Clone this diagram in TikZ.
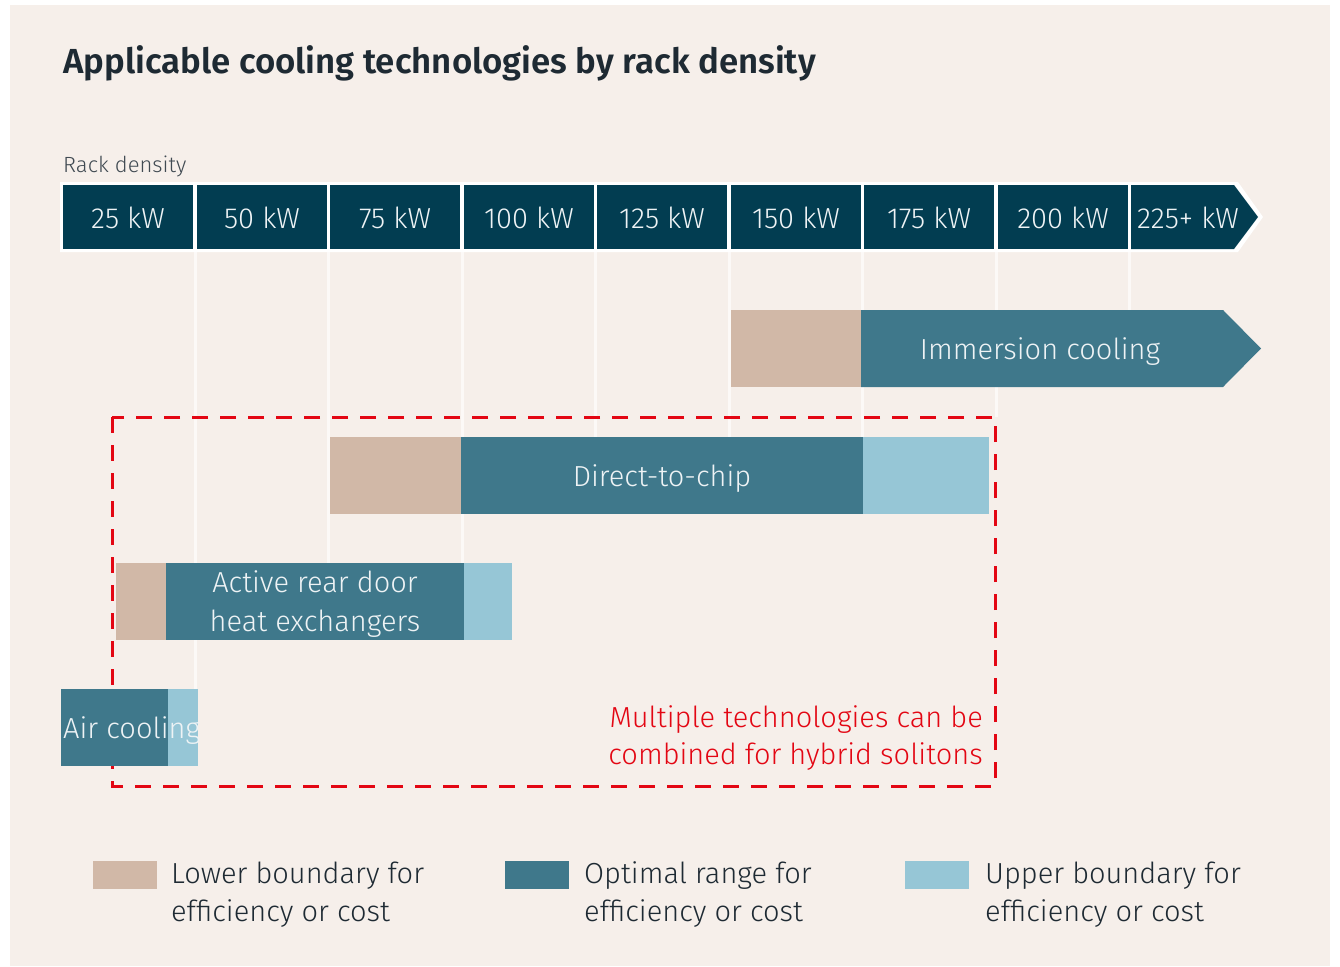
\documentclass[tikz,border=0pt]{standalone}
\usepackage{fontspec}
\IfFontExistsTF{Fira Sans Light}{\setmainfont{Fira Sans Light}}{\setmainfont{Fira Sans}}
\IfFontExistsTF{Fira Sans SemiBold}{\newfontfamily\titlefont{Fira Sans SemiBold}}{\newfontfamily\titlefont{Fira Sans}[FakeBold=2]}
\definecolor{navy}{HTML}{023D51}
\definecolor{teal}{HTML}{3F788B}
\definecolor{tan}{HTML}{D1B8A7}
\definecolor{lightb}{HTML}{96C6D6}
\definecolor{bg}{HTML}{F6EFEA}
\definecolor{gridc}{HTML}{FCF9F7}
\definecolor{redc}{HTML}{E30613}
\definecolor{dark}{HTML}{1E2A33}
\definecolor{boxtext}{HTML}{EEF3F5}
\begin{document}
\begin{tikzpicture}[x=1pt,y=-1pt,
  bar/.style={draw=none,inner sep=0pt,outer sep=0pt,anchor=north west,minimum height=77pt},
  kwbox/.style={fill=navy,draw=none,inner sep=0pt,outer sep=0pt,anchor=north west,minimum width=130pt,minimum height=64pt,text=boxtext,font=\fontsize{29}{34}\selectfont},
  lbl/.style={text=boxtext,font=\fontsize{29}{36}\selectfont,inner sep=0pt,align=center,yshift=-3pt},
  leg/.style={text=dark,font=\fontsize{29}{38}\selectfont,inner sep=0pt,align=left,anchor=west,yshift=-2.5pt},
  gridl/.style={draw=gridc,line width=3pt}]
\useasboundingbox (0,0) rectangle (1340,966);
\fill[white] (0,0) rectangle (1340,966);
\fill[bg] (10,5) rectangle (1330,966);
% title
\node[anchor=west,inner sep=0pt,text=dark,font=\titlefont\fontsize{34.8}{42}\selectfont] (title) at (63,63) {Applicable cooling technologies by rack density};
\node[anchor=west,inner sep=0pt,text=dark!85,font=\fontsize{22}{26}\selectfont] (rack) at (63,166) {Rack density};
% grid lines
\draw[gridl] (195,250) -- (195,689);
\draw[gridl] (328,250) -- (328,563);
\draw[gridl] (462,250) -- (462,563);
\draw[gridl] (595,250) -- (595,437);
\draw[gridl] (729,250) -- (729,437);
\draw[gridl] (862,250) -- (862,437);
\draw[gridl] (996,250) -- (996,417);
\draw[gridl] (1129,250) -- (1129,310);
% red dashed box (behind the bars)
\draw[redc,line width=3pt,dash pattern=on 16pt off 12pt] (112,417) rectangle (995,786);
% ribbon
\fill[white] (60,182) -- (1238,182) -- (1263,217) -- (1238,252) -- (60,252) -- cycle;
\node[kwbox] (k25) at (63,185) {};
\node[kwbox] (k50) at (197,185) {};
\node[kwbox] (k75) at (330,185) {};
\node[kwbox] (k100) at (464,185) {};
\node[kwbox] (k125) at (597,185) {};
\node[kwbox] (k150) at (731,185) {};
\node[kwbox] (k175) at (864,185) {};
\node[kwbox] (k200) at (998,185) {};
\coordinate (k225a) at (1131,185);
\coordinate (k225tip) at (1258,217);
\fill[navy] (k225a) -- (1234,185) -- (k225tip) -- (1234,249) -- (1131,249) -- cycle;
\foreach \n/\t in {k25/25 kW,k50/50 kW,k75/75 kW,k100/100 kW,k125/125 kW,k150/150 kW,k175/175 kW,k200/200 kW}
  \node[lbl,font=\fontsize{29}{34}\selectfont,yshift=2pt] at (\n.center) {\t};
\node[lbl,font=\fontsize{29}{34}\selectfont,yshift=2pt] (k225) at (1188,217) {225+ kW};
% immersion cooling
\node[bar,fill=tan,minimum width=130pt] (imtan) at (731,310) {};
\coordinate (imA) at (861,310);
\fill[teal] (imA) -- (1223,310) -- (1261,348.5) -- (1223,387) -- (861,387) -- cycle;
\node[lbl] (imm) at (1040,348.5) {Immersion cooling};
% direct to chip
\node[bar,fill=tan,minimum width=131pt] (dtan) at (330,437) {};
\node[bar,fill=teal,minimum width=402pt] (dteal) at (461,437) {};
\node[bar,fill=lightb,minimum width=126pt] (dlight) at (863,437) {};
\node[lbl] (dlbl) at (662,476) {Direct-to-chip};
% active rear door
\node[bar,fill=tan,minimum width=50pt] (atan) at (116,563) {};
\node[bar,fill=teal,minimum width=298pt] (ateal) at (166,563) {};
\node[bar,fill=lightb,minimum width=48pt] (alight) at (464,563) {};
\node[lbl,font=\fontsize{29}{39}\selectfont] (albl) at (315,601.5) {Active rear door\\heat exchangers};
% air cooling
\node[bar,fill=teal,minimum width=107pt] (airteal) at (61,689) {};
\node[bar,fill=lightb,minimum width=30pt] (airlight) at (168,689) {};
\node[lbl,anchor=west] (airlbl) at (63,727.5) {Air cooling};
% note
\node[anchor=east,inner sep=0pt,align=right,text=redc,font=\fontsize{29}{37}\selectfont,yshift=-3pt] (note) at (983,735.5) {Multiple technologies can be\\combined for hybrid solitons};
% legend
\node[draw=none,fill=tan,inner sep=0pt,minimum width=64pt,minimum height=28pt,anchor=north west] (lg1) at (93,861) {};
\node[leg] (lt1) at (171,892.5) {Lower boundary for\\efficiency or cost};
\node[draw=none,fill=teal,inner sep=0pt,minimum width=64pt,minimum height=28pt,anchor=north west] (lg2) at (505,861) {};
\node[leg] (lt2) at (584,892.5) {Optimal range for\\efficiency or cost};
\node[draw=none,fill=lightb,inner sep=0pt,minimum width=64pt,minimum height=28pt,anchor=north west] (lg3) at (905,861) {};
\node[leg] (lt3) at (985,892.5) {Upper boundary for\\efficiency or cost};
\end{tikzpicture}
\end{document}
